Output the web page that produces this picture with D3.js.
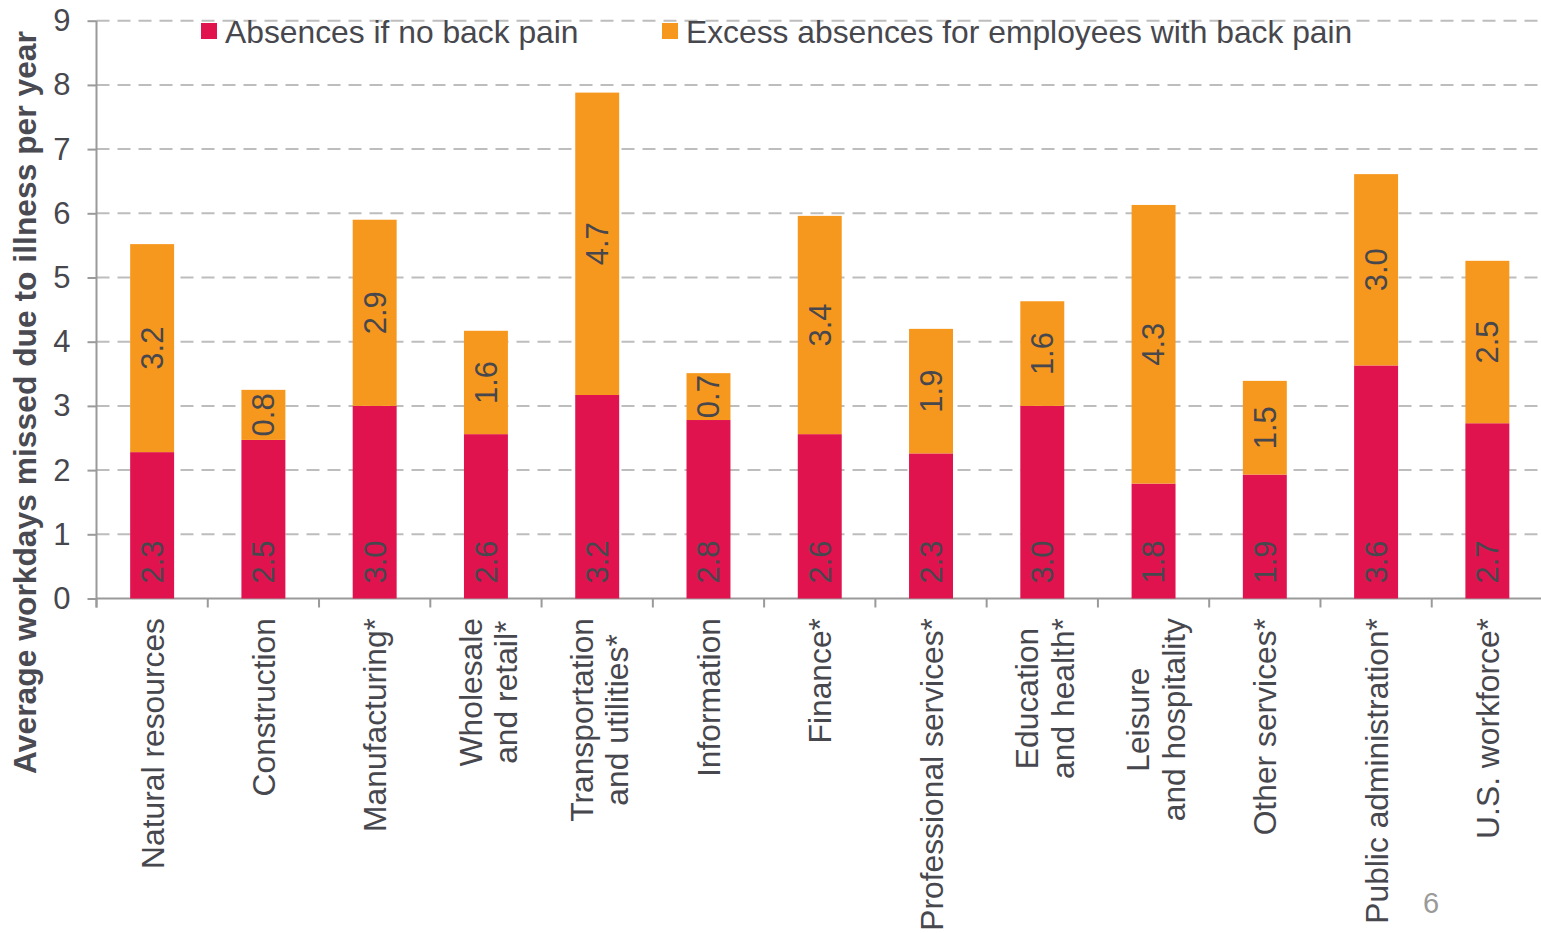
<!DOCTYPE html>
<html>
<head>
<meta charset="utf-8">
<script src="https://cdn.jsdelivr.net/npm/d3@7"></script>
<style>
  html, body { margin: 0; padding: 0; background: #ffffff; }
  svg { display: block; }
  text { font-family: "Liberation Sans", Arial, sans-serif; }
</style>
</head>
<body>
<svg id="chart" width="1541" height="933"></svg>
<script>
// ---- data ----
const categories = [
  ["Natural resources"],
  ["Construction"],
  ["Manufacturing*"],
  ["Wholesale", "and retail*"],
  ["Transportation", "and utilities*"],
  ["Information"],
  ["Finance*"],
  ["Professional services*"],
  ["Education", "and health*"],
  ["Leisure", "and hospitality"],
  ["Other services*"],
  ["Public administration*"],
  ["U.S. workforce*"]
];
const absencesNoBackPain = [2.28, 2.47, 3.0, 2.56, 3.17, 2.78, 2.56, 2.26, 3.0, 1.79, 1.93, 3.63, 2.73];
const excessAbsences     = [3.24, 0.78, 2.9, 1.61, 4.71, 0.73, 3.4, 1.94, 1.63, 4.34, 1.46, 2.98, 2.53];
const seriesNames = ["Absences if no back pain", "Excess absences for employees with back pain"];
const yTicks = [0, 1, 2, 3, 4, 5, 6, 7, 8, 9];
const yTitle = "Average workdays missed due to illness per year";
const pageNumber = "6";

// ---- styles ----
const RED = "#e0134f", ORANGE = "#f7981e";
const TXT = "#47474e";
const FS = 31.8;

const svg = d3.select("#chart");
const x0 = 96.5, x1 = 1543, yTop = 20.7, yBot = 598.5;

const x = d3.scaleBand().domain(d3.range(categories.length)).range([x0, x1]).padding(0);
const y = d3.scaleLinear().domain([0, 9]).range([yBot, yTop]);
const barW = x.bandwidth() * 0.395;

// gridlines
svg.append("g").selectAll("line").data(yTicks.filter(t => t > 0)).join("line")
  .attr("x1", x0).attr("x2", 1541)
  .attr("y1", d => y(d)).attr("y2", d => y(d))
  .attr("stroke", "#bdbdbd").attr("stroke-width", 2)
  .attr("stroke-dasharray", "13,8");

// y axis
const yAxis = svg.append("g").attr("transform", `translate(${x0},0)`)
  .call(d3.axisLeft(y).tickValues(yTicks).tickSize(9).tickPadding(17).tickFormat(d3.format("d")));
yAxis.select(".domain").attr("stroke", "#9a9a9a").attr("stroke-width", 2)
  .attr("d", `M0,${yTop}V${yBot + 9}`);
yAxis.selectAll(".tick line").attr("stroke", "#9a9a9a").attr("stroke-width", 2);
yAxis.selectAll(".tick text").attr("font-size", 31).attr("fill", TXT)
  .attr("font-family", '"Liberation Sans", Arial, sans-serif');

// x axis
const xAxisG = svg.append("g");
xAxisG.append("line").attr("x1", x0).attr("x2", 1541).attr("y1", yBot).attr("y2", yBot)
  .attr("stroke", "#9a9a9a").attr("stroke-width", 2);
xAxisG.selectAll("line.tk").data(d3.range(categories.length)).join("line").attr("class", "tk")
  .attr("x1", d => x(d)).attr("x2", d => x(d))
  .attr("y1", yBot).attr("y2", yBot + 9)
  .attr("stroke", "#9a9a9a").attr("stroke-width", 2);

// bars
const data = categories.map((c, i) => ({ i, a: absencesNoBackPain[i], b: excessAbsences[i] }));
const bars = svg.append("g");
bars.selectAll("rect.a").data(data).join("rect").attr("class", "a")
  .attr("x", d => x(d.i) + x.bandwidth() / 2 - barW / 2).attr("width", barW)
  .attr("y", d => y(d.a)).attr("height", d => y(0) - y(d.a))
  .attr("fill", RED);
bars.selectAll("rect.b").data(data).join("rect").attr("class", "b")
  .attr("x", d => x(d.i) + x.bandwidth() / 2 - barW / 2).attr("width", barW)
  .attr("y", d => y(d.a + d.b)).attr("height", d => y(d.a) - y(d.a + d.b))
  .attr("fill", ORANGE);

const fmt = d3.format(".1f");
// red labels (bottom)
bars.selectAll("text.la").data(data).join("text").attr("class", "la")
  .attr("transform", d => `translate(${x(d.i) + x.bandwidth() / 2},${y(0) - 15}) rotate(-90)`)
  .attr("dy", "0.35em").attr("text-anchor", "start")
  .attr("font-size", 31).attr("fill", TXT)
  .text(d => fmt(d.a));
// orange labels (centered)
bars.selectAll("text.lb").data(data).join("text").attr("class", "lb")
  .attr("transform", d => `translate(${x(d.i) + x.bandwidth() / 2},${(y(d.a) + y(d.a + d.b)) / 2}) rotate(-90)`)
  .attr("dy", "0.35em").attr("text-anchor", "middle")
  .attr("font-size", 31).attr("fill", TXT)
  .text(d => fmt(d.b));

// category labels
const catG = svg.append("g").selectAll("g").data(categories).join("g")
  .attr("transform", (d, i) => `translate(${x(i) + x.bandwidth() / 2},618) rotate(-90)`);
catG.each(function (lines) {
  const g = d3.select(this);
  const n = lines.length;
  const ts = lines.map((ln, k) => g.append("text")
    .attr("font-size", FS).attr("fill", TXT)
    .attr("text-anchor", "middle")
    .attr("y", 11.5 + (k - (n - 1) / 2) * 35.5 + (n > 1 ? 2 : 0))
    .text(ln));
  const maxW = d3.max(ts, t => t.node().getComputedTextLength());
  ts.forEach(t => t.attr("x", -maxW / 2));
});

// y title
svg.append("text")
  .attr("transform", `translate(36,402.5) rotate(-90)`)
  .attr("text-anchor", "middle")
  .attr("font-size", 31.8).attr("font-weight", "bold").attr("fill", "#4a4a52")
  .text(yTitle);

// legend
const legendItems = [
  { name: seriesNames[0], color: RED, x: 201 },
  { name: seriesNames[1], color: ORANGE, x: 662 }
];
const lg = svg.append("g").selectAll("g").data(legendItems).join("g")
  .attr("transform", d => `translate(${d.x},23)`);
lg.append("rect").attr("width", 16).attr("height", 16).attr("fill", d => d.color);
lg.append("text").attr("x", 24).attr("y", 19.5)
  .attr("font-size", FS).attr("fill", TXT).text(d => d.name);

// page number
svg.append("text").attr("x", 1431).attr("y", 913).attr("text-anchor", "middle")
  .attr("font-size", 29).attr("fill", "#9a9a9a").text(pageNumber);
</script>
</body>
</html>
